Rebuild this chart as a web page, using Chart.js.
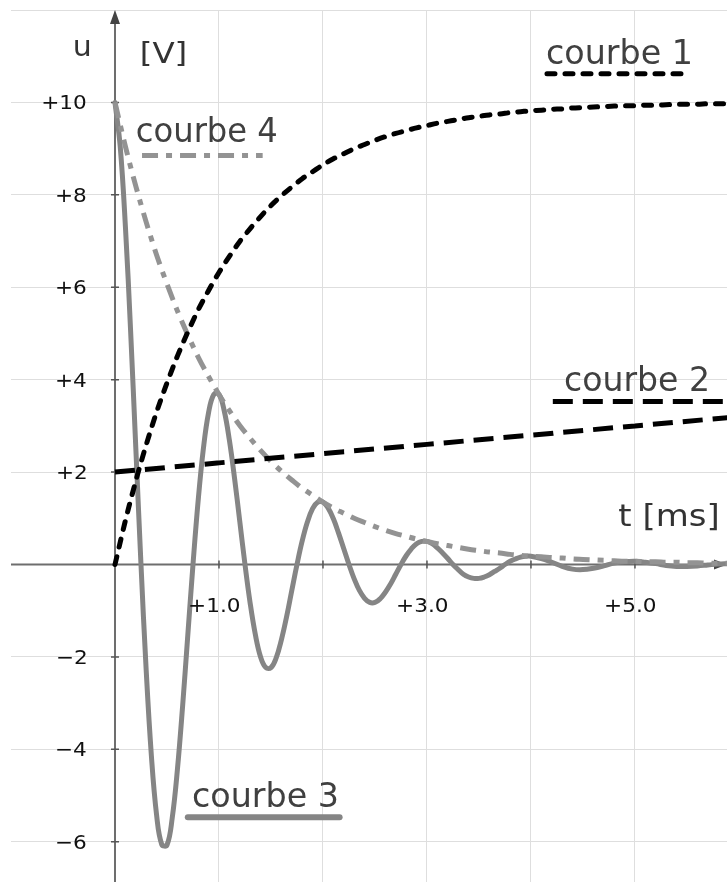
<!DOCTYPE html>
<html>
<head>
<meta charset="utf-8">
<script src="https://cdn.jsdelivr.net/npm/chart.js@4/dist/chart.umd.min.js"></script>
<style>
html,body{margin:0;padding:0;background:#fff;}
#wrap{width:727px;height:882px;position:relative;}
</style>
</head>
<body>
<div id="wrap"><canvas id="c"></canvas></div>
<script>
// ---- data ----
const tAxis = [0,0.1,0.2,0.3,0.4,0.5,0.6,0.7,0.8,0.9,
  1,1.1,1.2,1.3,1.4,1.5,1.6,1.7,1.8,1.9,
  2,2.1,2.2,2.3,2.4,2.5,2.6,2.7,2.8,2.9,
  3,3.1,3.2,3.3,3.4,3.5,3.6,3.7,3.8,3.9,
  4,4.1,4.2,4.3,4.4,4.5,4.6,4.7,4.8,4.9,
  5,5.1,5.2,5.3,5.4,5.5,5.6,5.7,5.8,5.9];
const courbe1 = [0,0.95,1.81,2.59,3.30,3.93,4.51,5.03,5.51,5.93,
  6.32,6.67,6.99,7.27,7.53,7.77,7.98,8.17,8.35,8.50,
  8.65,8.78,8.89,9.00,9.09,9.18,9.26,9.33,9.39,9.45,
  9.50,9.55,9.59,9.63,9.67,9.70,9.73,9.75,9.78,9.80,
  9.82,9.83,9.85,9.86,9.88,9.89,9.90,9.91,9.92,9.93,
  9.93,9.94,9.94,9.95,9.96,9.96,9.96,9.97,9.97,9.97];
const courbe4 = [10,9.05,8.19,7.41,6.70,6.07,5.49,4.97,4.49,4.07,
  3.68,3.33,3.01,2.73,2.47,2.23,2.02,1.83,1.65,1.50,
  1.35,1.22,1.11,1.00,0.91,0.82,0.74,0.67,0.61,0.55,
  0.50,0.45,0.41,0.37,0.33,0.30,0.27,0.25,0.22,0.20,
  0.18,0.17,0.15,0.14,0.12,0.11,0.10,0.09,0.08,0.07,
  0.07,0.06,0.06,0.05,0.05,0.04,0.04,0.03,0.03,0.03];
const tLine = [0,1,2,3,4,5,6];
const courbe2 = [2.0,2.2,2.4,2.6,2.8,3.0,3.2];
const tFine = [0,0.05,0.1,0.15,0.2,0.25,0.3,0.35,0.4,0.45,0.5,0.55,0.6,0.65,0.7,0.75,0.8,0.85,0.9,0.95,
  1,1.05,1.1,1.15,1.2,1.25,1.3,1.35,1.4,1.45,1.5,1.55,1.6,1.65,1.7,1.75,1.8,1.85,1.9,1.95,
  2,2.05,2.1,2.15,2.2,2.25,2.3,2.35,2.4,2.45,2.5,2.55,2.6,2.65,2.7,2.75,2.8,2.85,2.9,2.95,
  3,3.05,3.1,3.15,3.2,3.25,3.3,3.35,3.4,3.45,3.5,3.55,3.6,3.65,3.7,3.75,3.8,3.85,3.9,3.95,
  4,4.1,4.2,4.3,4.4,4.5,4.6,4.7,4.8,4.9,
  5,5.1,5.2,5.3,5.4,5.5,5.6,5.7,5.8,5.9];
const courbe3 = [10.00,9.05,7.32,5.06,2.53,0,-2.29,-4.14,-5.42,-6.06,-6.07,-5.49,-4.44,-3.07,-1.53,0,1.39,2.51,3.29,3.68,
  3.68,3.33,2.69,1.86,0.93,0,-0.84,-1.52,-2.00,-2.23,-2.23,-2.02,-1.63,-1.13,-0.56,0,0.51,0.92,1.21,1.35,
  1.35,1.22,0.99,0.68,0.34,0,-0.31,-0.56,-0.73,-0.82,-0.82,-0.74,-0.60,-0.42,-0.21,0,0.19,0.34,0.45,0.50,
  0.50,0.45,0.36,0.25,0.13,0,-0.11,-0.21,-0.27,-0.30,-0.30,-0.27,-0.22,-0.15,-0.08,0,0.07,0.12,0.16,0.18,
  0.18,0.13,0.05,-0.04,-0.10,-0.11,-0.08,-0.03,0.03,0.06,
  0.07,0.05,0.02,-0.02,-0.04,-0.04,-0.03,-0.01,0.01,0.02];
const xGrid = [0,1,2,3,4,5];
const yGrid = [-6,-4,-2,0,2,4,6,8,10,12];
const xTickVals = [1,2,3,4,5];
const xTickLabels = ['+1.0','+3.0','+5.0'];
const xTickLabelVals = [1,3,5];
const yTickVals = [-6,-4,-2,2,4,6,8,10];
const yTickLabels = ['\u22126','\u22124','\u22122','+2','+4','+6','+8','+10'];
const seriesNames = ['courbe 1','courbe 2','courbe 3','courbe 4'];

function pts(xs, ys){ return xs.map((x,i)=>({x:x, y:ys[i]})); }

// styles
const STY = [
  {color:'#000000', width:5, dash:[8,10], cap:'round', tension:0},
  {color:'#000000', width:5, dash:[20,10], cap:'butt', tension:0},
  {color:'#858585', width:5, dash:[], cap:'round', tension:0.4},
  {color:'#939393', width:5, dash:[16,8,6,8], cap:'butt', tension:0}
];

function drawText(ctx, str, x, y, size, sx, color, align){
  ctx.save();
  ctx.font = size + 'px "DejaVu Sans"';
  ctx.fillStyle = color;
  ctx.textAlign = 'left';
  ctx.textBaseline = 'alphabetic';
  const m = ctx.measureText(str);
  const ink = (m.actualBoundingBoxRight + m.actualBoundingBoxLeft) * sx;
  let left = x;
  if (align === 'right') left = x - ink;
  else if (align === 'center') left = x - ink/2;
  ctx.translate(left, y);
  ctx.scale(sx, 1);
  ctx.fillText(str, m.actualBoundingBoxLeft, 0);
  ctx.restore();
}
function fitText(ctx, str, x, y, size, width, color){
  ctx.save();
  ctx.font = size + 'px "DejaVu Sans"';
  const m = ctx.measureText(str);
  const ink = m.actualBoundingBoxRight + m.actualBoundingBoxLeft;
  ctx.restore();
  drawText(ctx, str, x, y, size, width/ink, color, 'left');
}

const decor = {
  id:'decor',
  beforeDatasetsDraw(chart){
    const ctx = chart.ctx, xs = chart.scales.x, ys = chart.scales.y, ca = chart.chartArea;
    const ax = xs.getPixelForValue(0), ay = ys.getPixelForValue(0);
    ctx.save();
    ctx.strokeStyle = '#6e6e6e';
    ctx.lineWidth = 2;
    ctx.beginPath();
    ctx.moveTo(ax, ca.top + 8); ctx.lineTo(ax, ca.bottom);
    ctx.moveTo(ca.left, ay); ctx.lineTo(ca.right - 6, ay);
    ctx.stroke();
    // arrows
    ctx.fillStyle = '#444';
    ctx.beginPath();
    ctx.moveTo(ax, ca.top); ctx.lineTo(ax - 5, ca.top + 14); ctx.lineTo(ax + 5, ca.top + 14); ctx.closePath(); ctx.fill();
    ctx.beginPath();
    ctx.moveTo(ca.right, ay); ctx.lineTo(ca.right - 13, ay - 5); ctx.lineTo(ca.right - 13, ay + 5); ctx.closePath(); ctx.fill();
    // tick marks
    ctx.strokeStyle = '#555';
    ctx.lineWidth = 1.5;
    ctx.beginPath();
    yTickVals.forEach(v => { const py = ys.getPixelForValue(v); ctx.moveTo(ax - 4, py); ctx.lineTo(ax + 4, py); });
    xTickVals.forEach(v => { const px = xs.getPixelForValue(v); ctx.moveTo(px, ay - 4); ctx.lineTo(px, ay + 4); });
    ctx.stroke();
    ctx.restore();
  },
  afterDatasetsDraw(chart){
    const ctx = chart.ctx, xs = chart.scales.x, ys = chart.scales.y;
    const ax = xs.getPixelForValue(0), ay = ys.getPixelForValue(0);
    const X = v => xs.getPixelForValue(v), Y = v => ys.getPixelForValue(v);
    // tick labels
    yTickVals.forEach((v,i) => {
      drawText(ctx, yTickLabels[i], ax - 29, Y(v) + 7, 20, 1.08, '#111', 'right');
    });
    xTickLabelVals.forEach((v,i) => {
      drawText(ctx, xTickLabels[i], X(v) - 4, ay + 47, 20, 1.08, '#111', 'center');
    });
    // axis titles
    fitText(ctx, 'u', X(-0.385), Y(11.0), 28, 15, '#333');
    fitText(ctx, '[V]', X(0.26), Y(10.85), 28, 43, '#333');
    fitText(ctx, 't [ms]', X(4.84), Y(0.83), 31, 99, '#333');
    // series labels with sample lines
    const leg = [
      {t:4.154, u:10.83, w:143, l0:4.154, l1:5.53, lu:10.62},
      {t:4.327, u:3.75, w:142, l0:4.21, l1:5.95, lu:3.53},
      {t:0.75, u:-5.25, w:144, l0:0.70, l1:2.16, lu:-5.47},
      {t:0.21, u:9.15, w:140, l0:0.26, l1:1.42, lu:8.85}
    ];
    leg.forEach((g,i) => {
      fitText(ctx, seriesNames[i], X(g.t), Y(g.u), 33, g.w, '#404040');
      const s = STY[i];
      ctx.save();
      ctx.strokeStyle = s.color; ctx.lineWidth = (i===2)?6:5; ctx.setLineDash(s.dash); ctx.lineCap = s.cap;
      ctx.beginPath(); ctx.moveTo(X(g.l0), Y(g.lu)); ctx.lineTo(X(g.l1), Y(g.lu)); ctx.stroke();
      ctx.restore();
    });
  }
};

const dsData = [pts(tAxis, courbe1), pts(tLine, courbe2), pts(tFine, courbe3), pts(tAxis, courbe4)];
const datasets = dsData.map((d,i) => ({
  label: seriesNames[i],
  data: d,
  borderColor: STY[i].color,
  borderWidth: STY[i].width,
  borderDash: STY[i].dash,
  borderCapStyle: STY[i].cap,
  borderJoinStyle: 'round',
  cubicInterpolationMode: STY[i].tension > 0 ? 'default' : 'monotone',
  tension: STY[i].tension,
  pointRadius: 0,
  fill: false,
  order: [1,0,3,2][i]
}));

new Chart(document.getElementById('c'), {
  type: 'line',
  data: { datasets: datasets },
  options: {
    responsive: true,
    maintainAspectRatio: false,
    animation: false,
    layout: { padding: { left: 11, top: 10, right: 0, bottom: 0 } },
    plugins: { legend: { display: false }, tooltip: { enabled: false } },
    scales: {
      x: {
        type: 'linear', min: -1, max: 5.885,
        grid: { color: '#dedede', lineWidth: 1, drawTicks: false },
        border: { display: false },
        ticks: { display: false },
        afterBuildTicks: s => { s.ticks = xGrid.map(v => ({ value: v })); }
      },
      y: {
        type: 'linear', min: -6.87, max: 12,
        grid: { color: '#dedede', lineWidth: 1, drawTicks: false },
        border: { display: false },
        ticks: { display: false },
        afterBuildTicks: s => { s.ticks = yGrid.map(v => ({ value: v })); }
      }
    }
  },
  plugins: [decor]
});
</script>
</body>
</html>
